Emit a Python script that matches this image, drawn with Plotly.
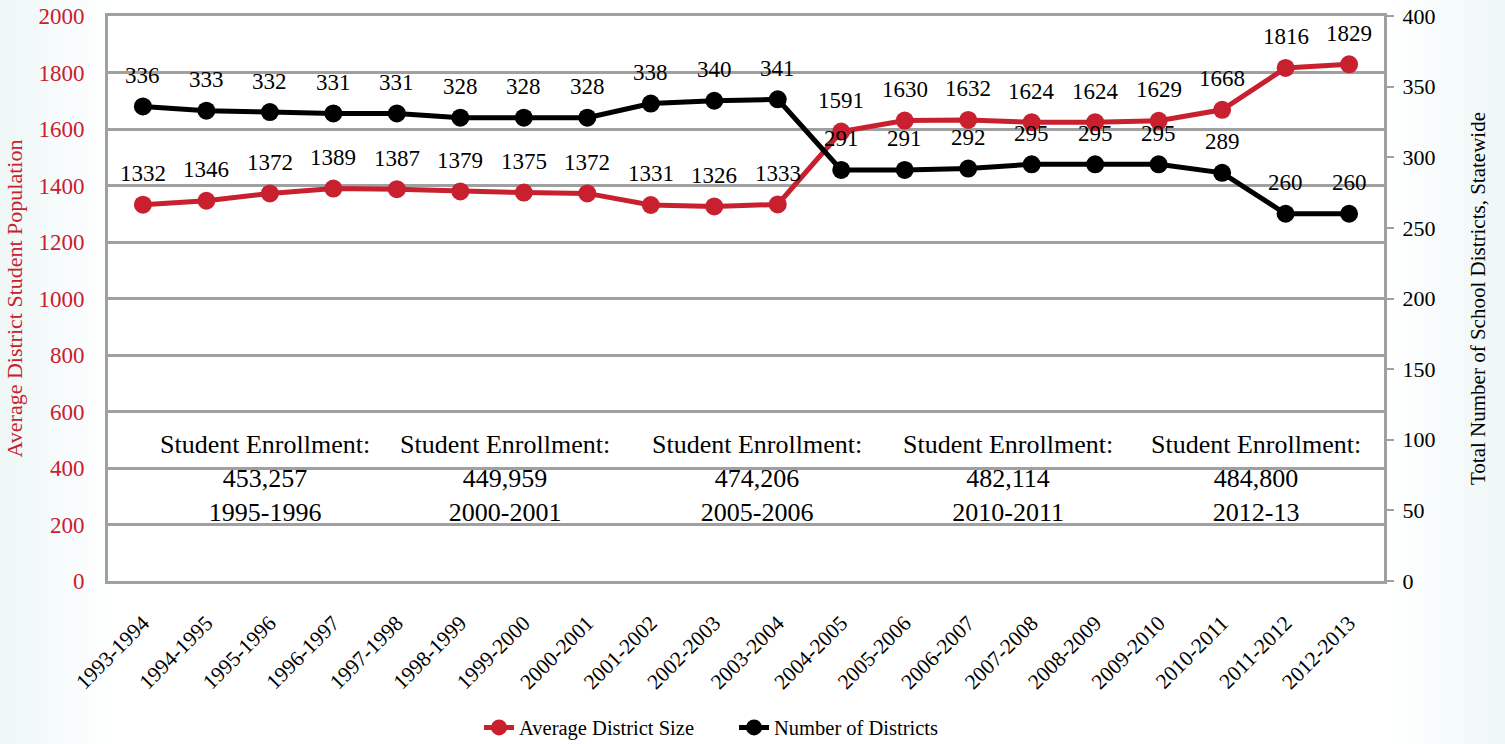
import plotly.graph_objects as go

years = ["1993-1994","1994-1995","1995-1996","1996-1997","1997-1998","1998-1999","1999-2000",
         "2000-2001","2001-2002","2002-2003","2003-2004","2004-2005","2005-2006","2006-2007",
         "2007-2008","2008-2009","2009-2010","2010-2011","2011-2012","2012-2013"]
avg_size = [1332,1346,1372,1389,1387,1379,1375,1372,1331,1326,1333,1591,1630,1632,1624,1624,1629,1668,1816,1829]
num_districts = [336,333,332,331,331,328,328,328,338,340,341,291,291,292,295,295,295,289,260,260]

enroll_values = ["453,257","449,959","474,206","482,114","484,800"]
enroll_years = ["1995-1996","2000-2001","2005-2006","2010-2011","2012-13"]
enroll_xpos = [0.123, 0.311, 0.509, 0.705, 0.900]

RED = "#C8202F"
FONT = "Liberation Serif"
GRID = "#A0A0A0"

W, H = 1505, 744
ML, MR, MT, MB = 108, 121, 16, 163
PW = W - ML - MR

fig = go.Figure()
fig.add_trace(go.Scatter(x=years, y=avg_size, name="Average District Size", mode="lines+markers",
                         line=dict(color=RED, width=5), marker=dict(color=RED, size=18), yaxis="y"))
fig.add_trace(go.Scatter(x=years, y=num_districts, name="Number of Districts", mode="lines+markers",
                         line=dict(color="black", width=5), marker=dict(color="black", size=18), yaxis="y2"))

annots = []
for x, v in zip(years, avg_size):
    annots.append(dict(x=x, y=v, xref="x", yref="y", text=str(v), showarrow=False, yshift=31,
                       font=dict(family=FONT, size=23, color="black")))
for x, v in zip(years, num_districts):
    annots.append(dict(x=x, y=v, xref="x", yref="y2", text=str(v), showarrow=False, yshift=31,
                       font=dict(family=FONT, size=23, color="black")))
for xp, val, yr in zip(enroll_xpos, enroll_values, enroll_years):
    annots.append(dict(x=xp, y=0.182, xref="paper", yref="paper", showarrow=False,
                       xanchor="center", yanchor="middle",
                       text="Student Enrollment:<br>" + val + "<br>" + yr, align="center",
                       font=dict(family=FONT, size=26, color="black")))

# subtle background gradient at the page edges
shapes = []
steps = 8
for i in range(steps):
    w = 110 * (i + 1) / steps
    shapes.append(dict(type="rect", xref="paper", yref="paper", layer="below",
                       x0=(0 - ML) / PW, x1=(w - ML) / PW, y0=-1, y1=2,
                       fillcolor="rgba(120,160,200,0.012)", line=dict(width=0)))
    shapes.append(dict(type="rect", xref="paper", yref="paper", layer="below",
                       x0=(W - w - ML) / PW, x1=(W - ML) / PW, y0=-1, y1=2,
                       fillcolor="rgba(120,160,200,0.012)", line=dict(width=0)))

fig.update_layout(
    width=W, height=H,
    margin=dict(l=ML, r=MR, t=MT, b=MB),
    paper_bgcolor="white", plot_bgcolor="white",
    font=dict(family=FONT, size=22, color="black"),
    annotations=annots,
    shapes=shapes,
    showlegend=True,
    legend=dict(orientation="h", xref="container", yref="container", x=0.3183, xanchor="left",
                y=0.022, yanchor="middle", font=dict(family=FONT, size=20.5), tracegroupgap=0,
                entrywidth=210, entrywidthmode="pixels",
                bgcolor="rgba(0,0,0,0)"),
    xaxis=dict(type="category", tickangle=-45, showgrid=False, showline=True, linecolor=GRID,
               linewidth=3, mirror=True, tickfont=dict(family=FONT, size=21.5), ticks="",
               ticklabelstandoff=18, range=[-0.55, 19.55], automargin=False),
    yaxis=dict(range=[0, 2000], dtick=200, showgrid=True, gridcolor=GRID, gridwidth=2.5,
               showline=True, linecolor=GRID, linewidth=3, zeroline=False, automargin=False,
               ticklabelstandoff=16,
               tickfont=dict(family=FONT, size=23, color=RED),
               title=dict(text="Average District Student Population", font=dict(family=FONT, size=22, color=RED), standoff=10)),
    yaxis2=dict(range=[0, 400], dtick=50, overlaying="y", side="right", showgrid=False,
                showline=True, linecolor=GRID, linewidth=3, zeroline=False, automargin=False,
                ticks="outside", ticklen=7, tickcolor=GRID, tickwidth=2, ticklabelstandoff=4,
                tickfont=dict(family=FONT, size=22, color="black"),
                title=dict(text="Total Number of School Districts, Statewide", font=dict(family=FONT, size=21, color="black"), standoff=36)),
)

fig.write_html("out.html", config={"displayModeBar": False},
               post_script="document.body.style.margin='0';")
